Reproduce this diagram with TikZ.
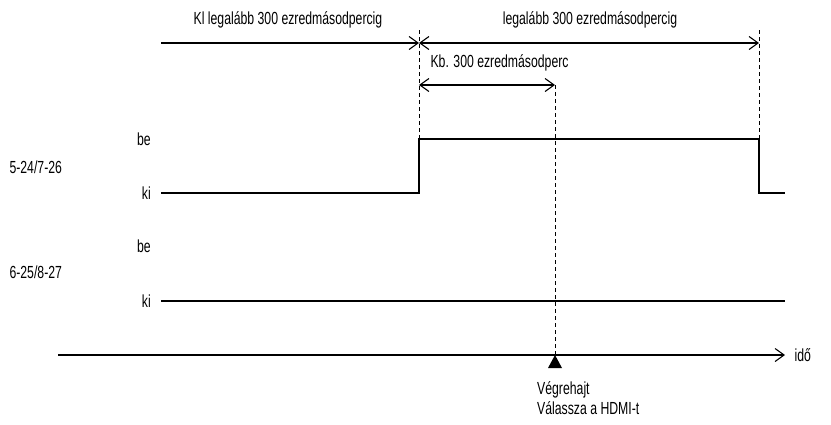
\documentclass[tikz,border=0pt]{standalone}
\usepackage{fontspec}
\setmainfont{Liberation Sans}[FakeStretch=0.7]
\usetikzlibrary{arrows.meta,positioning}

\begin{document}
\begin{tikzpicture}[
  x=1pt, y=-1pt,
  >={Straight Barb[length=9pt,width=13pt]}, font=\fontsize{17.5}{20}\selectfont,
  lvl/.style={anchor=east, inner sep=1pt},
  sig/.style={line width=1.3pt},
  guide/.style={line width=0.9pt, dash pattern=on 4pt off 3pt},
  span/.style={<->, line width=1.1pt}
]
\useasboundingbox (0,0) rectangle (831,424);

% ---------- MARKERS ----------
\coordinate (s0) at (161,43);
\coordinate (s1) at (419,43);
\coordinate (s2) at (759,43);
\coordinate (k1) at (419,85);
\coordinate (k2) at (555,85);
\coordinate (ax0) at (58,355);
\coordinate (ax1) at (785,355);
\coordinate (ex) at (555,355);

\node (lOff) at (288,20) {Kl legalább 300 ezredmásodpercig};
\node (lOn) at (590,20) {legalább 300 ezredmásodpercig};
\node[anchor=west] (lKb) at (427,63) {Kb. 300 ezredmásodperc};

\draw[->, line width=1.1pt] (s0) -- (s1);
\draw[span] (s1) -- (s2);
\draw[span] (k1) -- (k2);

% ---------- SIGNAL 5-24/7-26 ----------
\node[anchor=west] (pinA) at (6,167) {5-24/7-26};
\node[lvl] (beA) at (152,139) {be};
\node[lvl] (kiA) at (152,193) {ki};
\coordinate (a0) at (161,193);
\coordinate (a1) at (419,193);
\coordinate (a2) at (419,139);
\coordinate (a3) at (759,139);
\coordinate (a4) at (759,193);
\coordinate (a5) at (785,193);
\draw[sig] (a0) -- (a1) -- (a2) -- (a3) -- (a4) -- (a5);

% ---------- SIGNAL 6-25/8-27 ----------
\node[anchor=west] (pinB) at (6,272) {6-25/8-27};
\node[lvl] (beB) at (152,246) {be};
\node[lvl] (kiB) at (152,301) {ki};
\coordinate (b0) at (161,301);
\coordinate (b1) at (785,301);
\draw[sig] (b0) -- (b1);

% ---------- GUIDES ----------
\draw[guide] (419,30) -- (a2);
\draw[guide] (759,30) -- (a3);
\draw[guide] (k2) -- (ex);

% ---------- TIME AXIS ----------
\draw[->, line width=1.1pt] (ax0) -- (ax1);
\node[anchor=west] (tAxis) at (791,355) {idő};
\fill (ex) -- ++(-7,13) -- ++(14,0) -- cycle;
\node[anchor=north west, align=left, inner sep=0pt] (lExec) at (537,381)
  {Végrehajt\\[0pt]Válassza a HDMI-t};

\end{tikzpicture}
\end{document}
